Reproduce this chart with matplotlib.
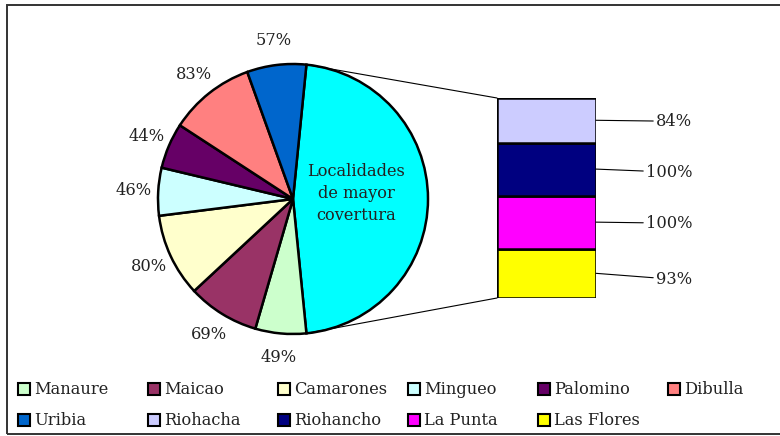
import matplotlib.pyplot as plt
from matplotlib.patches import Rectangle, ConnectionPatch
import numpy as np

# datos
pie_names = ['Localidades de mayor covertura', 'Manaure', 'Maicao', 'Camarones',
             'Mingueo', 'Palomino', 'Dibulla', 'Uribia']
bar_names = ['Riohacha', 'Riohancho', 'La Punta', 'Las Flores']
bar_values = [84, 100, 100, 93]
pie_values = [sum(bar_values), 49, 69, 80, 46, 44, 83, 57]
pie_colors = ['#00FFFF', '#CCFFCC', '#993366', '#FFFFCC', '#CCFFFF', '#660066', '#FF8080', '#0066CC']
bar_colors = ['#CCCCFF', '#000080', '#FF00FF', '#FFFF00']

plt.rcParams['font.family'] = 'DejaVu Serif'
FS = 11.7
TXT = '#222222'
W, H = 780, 436
fig = plt.figure(figsize=(W / 100, H / 100), dpi=100)

def px(x0, y0, w, h):
    return [x0 / W, 1 - (y0 + h) / H, w / W, h / H]

# borde del grafico
fig.patches.append(Rectangle((7 / W, 1 - 434 / H), 776 / W, 429 / H, transform=fig.transFigure,
                             fill=False, edgecolor='#333333', linewidth=1.4))

# pastel
cx, cy, r = 293, 199, 135
ax = fig.add_axes(px(cx - r, cy - r, 2 * r, 2 * r))
big_angle = 360 * pie_values[0] / sum(pie_values)
start = big_angle / 2
wedges, texts = ax.pie(pie_values, colors=pie_colors, startangle=start, counterclock=False,
                       labels=[''] + [f'{v}%' for v in pie_values[1:]], labeldistance=1.18,
                       wedgeprops=dict(edgecolor='black', linewidth=1.8),
                       textprops=dict(fontsize=FS, color=TXT))
for t in texts:
    t.set_ha('center')
    t.set_va('center')
ax.set_xlim(-1, 1)
ax.set_ylim(-1, 1)
ax.text(0.47, 0.04, 'Localidades\nde mayor\ncovertura', ha='center', va='center',
        fontsize=FS, color=TXT, linespacing=1.4)

# barra
bx = fig.add_axes(px(497, 98, 99, 200))
bottom = 0
mids = []
for name, v, c in zip(bar_names[::-1], bar_values[::-1], bar_colors[::-1]):
    bx.bar(0, v, bottom=bottom, width=1, color=c, edgecolor='black', linewidth=1.8)
    mids.append(bottom + v / 2)
    bottom += v
bx.set_xlim(-0.5, 0.5)
bx.set_ylim(0, bottom)
bx.axis('off')

offsets = [(60, -1), (50, -3), (50, -1), (60, -6)]
for v, m, off in zip(bar_values[::-1], mids, offsets[::-1]):
    bx.annotate(f'{v}%', xy=(0.5, m), xytext=off, textcoords='offset pixels',
                ha='left', va='center', fontsize=FS, color=TXT,
                arrowprops=dict(arrowstyle='-', color='black', lw=0.8, shrinkA=0, shrinkB=0))

# lineas de conexion
for ang, yb in [(start, bottom), (-start, 0)]:
    t = np.deg2rad(ang)
    con = ConnectionPatch(xyA=(np.cos(t), np.sin(t)), coordsA=ax.transData,
                          xyB=(-0.5, yb), coordsB=bx.transData, color='black', lw=0.8)
    fig.add_artist(con)

# leyenda
legend_names = pie_names[1:] + bar_names
legend_colors = pie_colors[1:] + bar_colors
for i, (n, c) in enumerate(zip(legend_names, legend_colors)):
    col, row = i % 6, i // 6
    x0 = 18 + col * 130
    y0 = 383 + row * 31
    fig.patches.append(Rectangle((x0 / W, 1 - (y0 + 12) / H), 12 / W, 12 / H, transform=fig.transFigure,
                                 facecolor=c, edgecolor='black', linewidth=1.5))
    fig.text((x0 + 16) / W, 1 - (y0 + 6) / H, n, ha='left', va='center', fontsize=FS, color=TXT)

fig.savefig('out.png', dpi=100)
